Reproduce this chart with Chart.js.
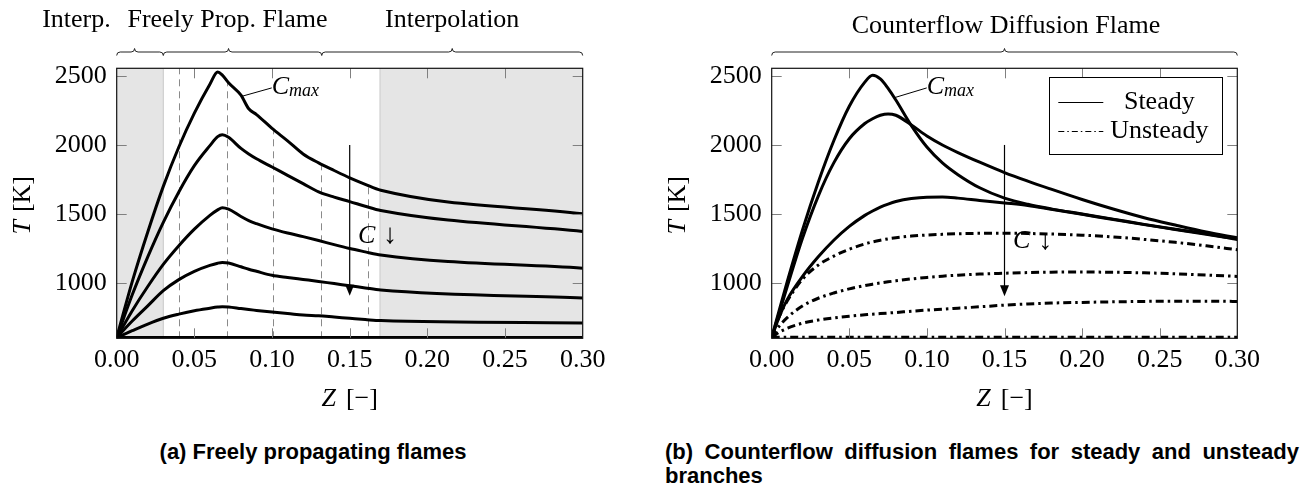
<!DOCTYPE html>
<html lang="en">
<head>
<meta charset="utf-8">
<title>Flame temperature profiles</title>
<script src="https://cdn.jsdelivr.net/npm/chart.js@4.4.1/dist/chart.umd.min.js"></script>
<style>
  html, body { margin: 0; padding: 0; background: #fff; }
  #page { position: relative; width: 1314px; height: 486px; overflow: hidden; background: #fff; }
  #page canvas { position: absolute; top: 0; }
  #freeCanvas { left: 0; }
  #cfCanvas { left: 657px; }
  .caption { position: absolute; top: 440px; font: bold 22px "Liberation Sans", Arial, sans-serif; line-height: 24px; color: #000; }
  #capFree { left: 113px; width: 400px; text-align: center; }
  #capCf { left: 665px; width: 634px; text-align: justify; }
</style>
</head>
<body>
<div id="page">
  <canvas id="freeCanvas" width="657" height="430"></canvas>
  <canvas id="cfCanvas" width="657" height="430"></canvas>
  <div class="caption" id="capFree">(a) Freely propagating flames</div>
  <div class="caption" id="capCf">(b) Counterflow diffusion flames for steady and unsteady branches</div>
</div>
<script>
// Axis ticks
const zTicks = [0, 0.05, 0.10, 0.15, 0.20, 0.25, 0.30];
const tTicks = [1000, 1500, 2000, 2500];

// (a) Freely propagating flames: temperature T [K] over mixture fraction Z
const zFree  = [0, 0.01, 0.02, 0.03, 0.04, 0.05, 0.06, 0.065, 0.068, 0.072, 0.08, 0.085, 0.09, 0.10, 0.11, 0.12, 0.13, 0.14, 0.15, 0.16, 0.17, 0.30];
const tFree1 = [605, 1010, 1370, 1700, 1985, 2230, 2440, 2528, 2505, 2450, 2360, 2262, 2220, 2120, 2030, 1935, 1870, 1815, 1762, 1715, 1672, 1502];
const tFree2 = [605, 915, 1190, 1440, 1660, 1850, 1995, 2060, 2074, 2055, 1975, 1935, 1900, 1840, 1780, 1720, 1660, 1622, 1590, 1556, 1525, 1373];
const tFree3 = [605, 800, 975, 1135, 1270, 1390, 1490, 1530, 1546, 1535, 1482, 1452, 1430, 1392, 1362, 1336, 1308, 1278, 1250, 1226, 1203, 1108];
const tFree4 = [605, 725, 835, 945, 1025, 1085, 1128, 1144, 1149, 1145, 1118, 1100, 1085, 1056, 1040, 1026, 1012, 996, 981, 965, 950, 892];
const tFree5 = [605, 655, 703, 745, 775, 800, 818, 826, 829, 827, 815, 808, 802, 790, 780, 768, 763, 754, 745, 736, 728, 711];
const zUnburnt = [0, 0.30];
const tUnburnt = [605, 605];
// flamelet sampling locations and the height each guide reaches
const zGuides   = [0.04, 0.0708, 0.1009, 0.1313, 0.1616];
const tGuideTop = [2555, 2460, 2111, 1865, 1710];

// (b) Counterflow diffusion flames
const zCf = [0, 0.005, 0.01, 0.02, 0.03, 0.04, 0.05, 0.06, 0.065, 0.07, 0.075, 0.08, 0.09, 0.10, 0.11, 0.12, 0.134, 0.15, 0.165, 0.18, 0.20, 0.22, 0.24, 0.26, 0.28, 0.30];
const tSteady1 = [605, 810, 1010, 1390, 1730, 2030, 2280, 2455, 2505, 2478, 2410, 2325, 2140, 1985, 1870, 1785, 1690, 1615, 1570, 1537, 1500, 1463, 1425, 1390, 1357, 1316];
const tSteady2 = [605, 790, 975, 1330, 1630, 1870, 2045, 2155, 2190, 2215, 2225, 2215, 2145, 2065, 2000, 1945, 1875, 1800, 1738, 1680, 1605, 1536, 1473, 1420, 1370, 1328];
const tSteady3 = [605, 760, 880, 1050, 1190, 1310, 1410, 1490, 1522, 1550, 1572, 1590, 1612, 1622, 1623, 1615, 1598, 1580, 1562, 1535, 1498, 1460, 1423, 1388, 1353, 1318];
const tUnsteady1 = [605, 760, 870, 1030, 1130, 1195, 1245, 1283, 1298, 1310, 1320, 1328, 1340, 1348, 1353, 1357, 1360, 1361, 1359, 1355, 1347, 1334, 1316, 1295, 1270, 1241];
const tUnsteady2 = [605, 690, 750, 835, 890, 928, 958, 982, 992, 1001, 1009, 1016, 1030, 1041, 1050, 1057, 1065, 1071, 1076, 1079, 1080, 1078, 1074, 1067, 1058, 1048];
const tUnsteady3 = [605, 645, 672, 710, 732, 748, 760, 770, 775, 779, 783, 787, 796, 804, 811, 818, 828, 840, 849, 855, 860, 864, 867, 869, 869, 867];
const zUnsteady4 = [0, 0.30];
const tUnsteady4 = [607, 607];

// ---------------------------------------------------------------------------
const SERIF = '"Liberation Serif", "Times New Roman", serif';
const fnt = (size, italic) => (italic ? 'italic ' : '') + size + 'px ' + SERIF;
const CANVAS_H = 430;
const PLOT_TOP = 68.3;
const PLOT_BOTTOM = 338.3;
const DASH_DOT = [8, 4, 2.5, 4];

const toPts = (zs, ts) => zs.map((z, i) => ({ x: z, y: ts[i] }));
const solid = (zs, ts) => ({ data: toPts(zs, ts) });
const dashDot = (zs, ts) => ({ data: toPts(zs, ts), borderDash: DASH_DOT });

// draws a run of differently styled text pieces as one label
function drawParts(ctx, parts, x, y, align) {
  let w = 0;
  parts.forEach(p => { ctx.font = p.font; p.w = ctx.measureText(p.text).width; w += p.w + (p.gap || 0); });
  w -= (parts[parts.length - 1].gap || 0);
  let cx = align === 'center' ? x - w / 2 : (align === 'right' ? x - w : x);
  ctx.textAlign = 'left';
  parts.forEach(p => { ctx.font = p.font; ctx.fillText(p.text, cx, y + (p.dy || 0)); cx += p.w + (p.gap || 0); });
}

function drawBrace(ctx, x1, x2, xm, y0, a) {
  ctx.beginPath();
  ctx.moveTo(x1, y0 + a);
  ctx.quadraticCurveTo(x1, y0, x1 + a, y0);
  ctx.lineTo(xm - a, y0);
  ctx.quadraticCurveTo(xm, y0, xm, y0 - a);
  ctx.quadraticCurveTo(xm, y0, xm + a, y0);
  ctx.lineTo(x2 - a, y0);
  ctx.quadraticCurveTo(x2, y0, x2, y0 + a);
  ctx.stroke();
}

const decor = {
  id: 'decor',
  beforeDatasetsDraw(chart, _args, o) {
    const { ctx, chartArea: a, scales: { x, y } } = chart;
    ctx.save();
    (o.shade || []).forEach(([z0, z1]) => {
      const x0 = x.getPixelForValue(z0), x1 = x.getPixelForValue(z1);
      ctx.fillStyle = '#e5e5e5';
      ctx.fillRect(x0, a.top, x1 - x0, a.bottom - a.top);
      ctx.strokeStyle = '#c9c9c9';
      ctx.lineWidth = 1;
      [x0, x1].forEach(px => {
        if (px > a.left + 1 && px < a.right - 1) {
          ctx.beginPath(); ctx.moveTo(px, a.top); ctx.lineTo(px, a.bottom); ctx.stroke();
        }
      });
    });
    if (o.guides) {
      ctx.strokeStyle = '#8a8a8a';
      ctx.lineWidth = 1;
      ctx.setLineDash([7, 5]);
      o.guides.z.forEach((z, i) => {
        const px = Math.round(x.getPixelForValue(z)) + 0.5;
        const top = Math.max(a.top, y.getPixelForValue(o.guides.top[i]));
        ctx.beginPath(); ctx.moveTo(px, a.bottom); ctx.lineTo(px, top); ctx.stroke();
      });
      ctx.setLineDash([]);
    }
    ctx.restore();
  },
  afterDatasetsDraw(chart, _args, o) {
    const { ctx, chartArea: a, scales: { x, y } } = chart;
    ctx.save();
    ctx.fillStyle = '#000';

    // inward tick marks on all four sides
    ctx.strokeStyle = '#808080';
    ctx.lineWidth = 1;
    zTicks.forEach(v => {
      const px = Math.round(x.getPixelForValue(v)) + 0.5;
      if (px < a.left + 2 || px > a.right - 2) return;
      ctx.beginPath();
      ctx.moveTo(px, a.bottom); ctx.lineTo(px, a.bottom - 10);
      ctx.moveTo(px, a.top); ctx.lineTo(px, a.top + 10);
      ctx.stroke();
    });
    tTicks.forEach(v => {
      const py = Math.round(y.getPixelForValue(v)) + 0.5;
      ctx.beginPath();
      ctx.moveTo(a.left, py); ctx.lineTo(a.left + 10, py);
      ctx.moveTo(a.right, py); ctx.lineTo(a.right - 10, py);
      ctx.stroke();
    });

    // frame
    ctx.strokeStyle = '#111';
    ctx.lineWidth = 1.2;
    ctx.strokeRect(a.left, a.top, a.right - a.left, a.bottom - a.top);

    // direction of decreasing progress variable
    if (o.arrow) {
      const ax = x.getPixelForValue(o.arrow.z);
      const y0 = y.getPixelForValue(o.arrow.from), y1 = y.getPixelForValue(o.arrow.to);
      ctx.strokeStyle = '#000';
      ctx.lineWidth = 1.2;
      ctx.beginPath(); ctx.moveTo(ax, y0); ctx.lineTo(ax, y1 - 8); ctx.stroke();
      ctx.beginPath(); ctx.moveTo(ax, y1); ctx.lineTo(ax - 4.5, y1 - 11); ctx.lineTo(ax + 4.5, y1 - 11); ctx.closePath(); ctx.fill();
    }
    ctx.textBaseline = 'middle';
    if (o.cLabel) {
      drawParts(ctx, [{ text: 'C', font: fnt(26, true), gap: 8 }, { text: '\u2193', font: fnt(28, false) }],
        x.getPixelForValue(o.cLabel.z), y.getPixelForValue(o.cLabel.t), 'left');
    }
    if (o.cmax) {
      const fx = x.getPixelForValue(o.cmax.from.z), fy = y.getPixelForValue(o.cmax.from.t);
      const tx = x.getPixelForValue(o.cmax.to.z), ty = y.getPixelForValue(o.cmax.to.t);
      ctx.strokeStyle = '#000';
      ctx.lineWidth = 1;
      ctx.beginPath(); ctx.moveTo(fx, fy); ctx.lineTo(tx, ty); ctx.stroke();
      drawParts(ctx, [{ text: 'C', font: fnt(26, true), gap: 0 }, { text: 'max', font: fnt(18, true), dy: 4 }],
        tx, ty - 1, 'left');
    }

    // legend
    if (o.legend) {
      const L = o.legend;
      const bx = a.right - L.right - L.width, by = a.top + L.top;
      ctx.fillStyle = '#fff';
      ctx.fillRect(bx, by, L.width, L.height);
      ctx.strokeStyle = '#000';
      ctx.lineWidth = 1;
      ctx.strokeRect(Math.round(bx) + 0.5, Math.round(by) + 0.5, Math.round(L.width), Math.round(L.height));
      ctx.fillStyle = '#000';
      L.items.forEach(it => {
        const ly = Math.round(by + it.dy) + 0.5;
        ctx.setLineDash(it.dash || []);
        ctx.beginPath(); ctx.moveTo(bx + 9, ly); ctx.lineTo(bx + 54, ly); ctx.stroke();
        ctx.setLineDash([]);
        ctx.font = fnt(26, false);
        ctx.textAlign = 'center';
        ctx.fillText(it.text, bx + 110, by + it.dy);
      });
    }

    // axis titles
    ctx.fillStyle = '#000';
    drawParts(ctx, [{ text: 'Z', font: fnt(26, true), gap: 10 }, { text: '[\u2212]', font: fnt(26, false) }],
      (a.left + a.right) / 2, a.bottom + 61, 'center');
    ctx.save();
    ctx.translate(a.left - 93.4, (a.top + a.bottom) / 2 + 2);
    ctx.rotate(-Math.PI / 2);
    drawParts(ctx, [{ text: 'T', font: fnt(26, true), gap: 8 }, { text: '[K]', font: fnt(26, false) }], 0, 0, 'center');
    ctx.restore();

    // braces marking the regions and their headings
    ctx.strokeStyle = '#222';
    ctx.lineWidth = 1;
    (o.braces || []).forEach(b => {
      drawBrace(ctx, x.getPixelForValue(b.from), x.getPixelForValue(b.to), x.getPixelForValue(b.tip), o.braceY, 3.5);
    });
    ctx.textBaseline = 'alphabetic';
    ctx.textAlign = 'center';
    ctx.font = fnt(26, false);
    (o.heads || []).forEach(h => ctx.fillText(h.text, x.getPixelForValue(h.z), o.headY));
    ctx.restore();
  }
};

function makeChart(canvasId, datasets, yAxisWidth, padRight, decorOpts) {
  return new Chart(document.getElementById(canvasId), {
    type: 'line',
    data: { datasets },
    options: {
      responsive: false,
      animation: false,
      devicePixelRatio: 1,
      events: [],
      layout: { padding: { left: 0, right: padRight, top: PLOT_TOP, bottom: 0 } },
      elements: {
        point: { radius: 0 },
        line: { borderColor: '#000', borderWidth: 3, cubicInterpolationMode: 'monotone', fill: false, borderCapStyle: 'butt' }
      },
      scales: {
        x: {
          type: 'linear', min: 0, max: 0.30,
          afterBuildTicks: s => { s.ticks = zTicks.map(v => ({ value: v })); },
          afterFit: s => { s.height = CANVAS_H - PLOT_BOTTOM; },
          grid: { display: false, drawTicks: false },
          border: { display: false },
          ticks: { color: '#000', font: { family: SERIF, size: 26 }, padding: 6, maxRotation: 0, minRotation: 0, autoSkip: false,
                   callback: v => Number(v).toFixed(2) }
        },
        y: {
          type: 'linear', min: 600, max: 2555,
          afterBuildTicks: s => { s.ticks = tTicks.map(v => ({ value: v })); },
          afterFit: s => { s.width = yAxisWidth; },
          grid: { display: false, drawTicks: false },
          border: { display: false },
          ticks: { color: '#000', font: { family: SERIF, size: 26 }, padding: 10, autoSkip: false,
                   callback: v => String(v) }
        }
      },
      plugins: { legend: { display: false }, tooltip: { enabled: false }, decor: decorOpts }
    },
    plugins: [decor]
  });
}

makeChart('freeCanvas', [
  solid(zUnburnt, tUnburnt),
  solid(zFree, tFree5),
  solid(zFree, tFree4),
  solid(zFree, tFree3),
  solid(zFree, tFree2),
  solid(zFree, tFree1)
], 116.7, 74.3, {
  shade: [[0, 0.03], [0.1695, 0.30]],
  guides: { z: zGuides, top: tGuideTop },
  braces: [
    { from: 0, to: 0.03, tip: 0.0115 },
    { from: 0.03, to: 0.132, tip: 0.072 },
    { from: 0.132, to: 0.30, tip: 0.216 }
  ],
  braceY: 52,
  heads: [
    { text: 'Interp.', z: -0.0259 },
    { text: 'Freely Prop. Flame', z: 0.0713 },
    { text: 'Interpolation', z: 0.216 }
  ],
  headY: 27,
  arrow: { z: 0.15, from: 2000, to: 908 },
  cLabel: { z: 0.1553, t: 1341 },
  cmax: { from: { z: 0.0805, t: 2352 }, to: { z: 0.0998, t: 2413 } }
});

makeChart('cfCanvas', [
  dashDot(zUnsteady4, tUnsteady4),
  dashDot(zCf, tUnsteady3),
  dashDot(zCf, tUnsteady2),
  dashDot(zCf, tUnsteady1),
  solid(zCf, tSteady3),
  solid(zCf, tSteady2),
  solid(zCf, tSteady1)
], 114.7, 76.7, {
  braces: [{ from: 0, to: 0.30, tip: 0.15 }],
  braceY: 52,
  heads: [{ text: 'Counterflow Diffusion Flame', z: 0.151 }],
  headY: 33,
  arrow: { z: 0.15, from: 2000, to: 905 },
  cLabel: { z: 0.1555, t: 1301 },
  cmax: { from: { z: 0.079, t: 2342 }, to: { z: 0.0999, t: 2413 } },
  legend: {
    right: 14.6, top: 9, width: 173.4, height: 76.7,
    items: [
      { text: 'Steady', dy: 24.4 },
      { text: 'Unsteady', dy: 53.4, dash: [6, 3, 1.5, 3] }
    ]
  }
});
</script>
</body>
</html>
